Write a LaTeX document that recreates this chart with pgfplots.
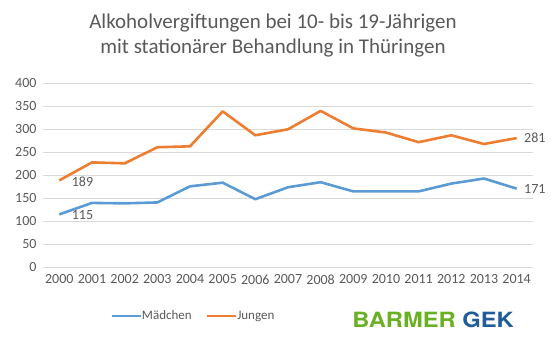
\documentclass[border=0pt]{standalone}
\usepackage{pgfplots}
\pgfplotsset{compat=1.18}
\usepackage{fontspec}
\setmainfont{Carlito}
\newfontfamily\logofont{TeX Gyre Heros}
\definecolor{cblue}{HTML}{5B9BD5}
\definecolor{corange}{HTML}{ED7D31}
\definecolor{cgrid}{HTML}{D9D9D9}
\definecolor{ctext}{HTML}{595959}
\definecolor{lgreen}{HTML}{6AB023}
\definecolor{lblue}{HTML}{1F5C99}
\begin{document}
\begin{tikzpicture}
\useasboundingbox (0,0) rectangle (551bp,337bp);
\begin{axis}[
  at={(43bp,69.7bp)}, anchor=south west,
  scale only axis, width=490bp, height=184bp, clip=false,
  xmin=1999.5, xmax=2014.5, ymin=0, ymax=400,
  xtick={2000,...,2014}, ytick={0,50,...,400},
  /pgf/number format/assume math mode=true,
  /pgf/number format/set thousands separator={},
  xticklabel style={font=\fontsize{14bp}{16bp}\selectfont, text=ctext},
  yticklabel style={font=\fontsize{14bp}{16bp}\selectfont, text=ctext},
  ymajorgrids, grid style={cgrid, line width=0.9bp},
  axis line style={draw=none}, major tick length=0pt,
  yticklabel shift=3bp, xticklabel shift=4bp,
  legend style={at={(0.307,-0.265)}, anchor=center, draw=none, fill=none,
    font=\fontsize{13bp}{15bp}\selectfont, text=ctext, legend columns=2,
    /tikz/every even column/.append style={column sep=12bp},
    /tikz/every odd column/.append style={column sep=-2bp}},
  legend image code/.code={\draw[#1, line width=2.5bp] (0bp,0bp) -- (29bp,0bp);},
]
\addplot[cblue, line width=2.6bp, line join=round] coordinates {
(2000,115) (2001,140) (2002,139) (2003,141) (2004,176) (2005,184) (2006,148)
(2007,174) (2008,185) (2009,165) (2010,165) (2011,165) (2012,182) (2013,193) (2014,171)};
\addlegendentry{Mädchen}
\addplot[corange, line width=2.6bp, line join=round] coordinates {
(2000,189) (2001,228) (2002,226) (2003,261) (2004,263) (2005,339) (2006,287)
(2007,300) (2008,340) (2009,302) (2010,293) (2011,272) (2012,287) (2013,268) (2014,281)};
\addlegendentry{Jungen}
\node[anchor=west, text=ctext, font=\fontsize{14bp}{16bp}\selectfont, xshift=9bp, yshift=-1bp] at (axis cs:2000,189) {189};
\node[anchor=west, text=ctext, font=\fontsize{14bp}{16bp}\selectfont, xshift=9bp, yshift=-1bp] at (axis cs:2000,115) {115};
\node[anchor=west, text=ctext, font=\fontsize{14bp}{16bp}\selectfont, xshift=4bp] at (axis cs:2014,281) {281};
\node[anchor=west, text=ctext, font=\fontsize{14bp}{16bp}\selectfont, xshift=4bp] at (axis cs:2014,171) {171};
\end{axis}
\node[align=center, text=ctext, font=\fontsize{21bp}{25bp}\selectfont] at (273bp,301bp)
  {Alkoholvergiftungen bei 10- bis 19-Jährigen\\mit stationärer Behandlung in Thüringen};
\node[xscale=1.13, anchor=east, font=\logofont\bfseries\fontsize{21bp}{22bp}\selectfont, inner sep=0pt] at (514bp,17.5bp)
  {\textcolor{lgreen}{BARMER} \textcolor{lblue}{GEK}};
\end{tikzpicture}
\end{document}
